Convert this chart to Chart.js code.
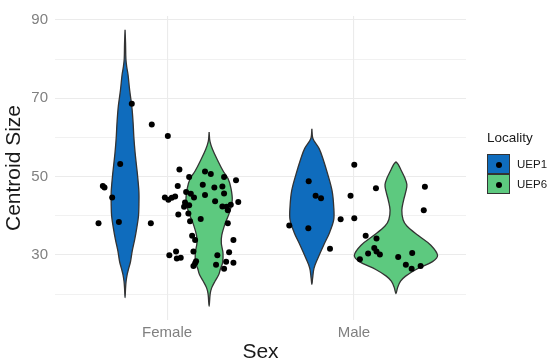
<!DOCTYPE html>
<html>
<head>
<meta charset="utf-8">
<script src="https://cdn.jsdelivr.net/npm/chart.js@4.4.0/dist/chart.umd.min.js"></script>
<style>
  body { margin: 0; background: #fff; }
  #wrap { position: relative; width: 550px; height: 363px; font-family: "Liberation Sans", Arial, sans-serif; }
  #legend { position: absolute; left: 487px; top: 130px; color: #1a1a1a; }
  #legend .ltitle { font-size: 13.5px; line-height: 16px; margin-bottom: 8px; }
  #legend .item { height: 20px; display: flex; align-items: center; font-size: 11.5px; }
  #legend .key { box-sizing: border-box; width: 23px; height: 20px; border: 1px solid #333; position: relative; margin-right: 7px; }
  #legend .dot { position: absolute; left: 8px; top: 6.5px; width: 6px; height: 6px; border-radius: 50%; background: #000; }
</style>
</head>
<body>
<div id="wrap">
  <canvas id="myChart" width="550" height="363"></canvas>
  <div id="legend"></div>
</div>
<script>
var sexes = ["Female", "Male"];
var localities = ["UEP1", "UEP6"];
var localityColors = ["#0f6cbd", "#5dc97f"];
var yTicksShown = [30, 50, 70, 90];

// violin outlines: centroid size level and relative width (1 = widest violin)
var femaleUep1Levels = [87.5, 84, 80, 78, 76, 72, 68, 64, 60, 56, 53, 50, 46, 43, 40, 37, 34, 31, 28.3, 26.5, 25, 23.3, 21.5, 19.1];
var femaleUep1Width = [0, 0.012, 0.02, 0.04, 0.071, 0.11, 0.16, 0.19, 0.21, 0.24, 0.27, 0.3, 0.33, 0.33, 0.32, 0.28, 0.23, 0.17, 0.13, 0.085, 0.05, 0.025, 0.012, 0];
var femaleUep6Levels = [61.4, 59, 57, 54, 51.5, 49.5, 47, 44, 41, 38, 35, 33, 30.5, 28, 26.5, 25, 23.3, 21.6, 20, 16.9];
var femaleUep6Width = [0, 0.02, 0.08, 0.21, 0.33, 0.45, 0.52, 0.55, 0.49, 0.38, 0.3, 0.29, 0.33, 0.32, 0.27, 0.23, 0.14, 0.06, 0.024, 0];
var maleUep1Levels = [62.2, 60, 59, 57.2, 54.7, 50.5, 46.4, 42.3, 39, 35.7, 32.5, 29.1, 26.6, 24, 22.5];
var maleUep1Width = [0, 0.017, 0.06, 0.17, 0.26, 0.38, 0.48, 0.52, 0.52, 0.42, 0.28, 0.14, 0.05, 0.017, 0];
var maleUep6Levels = [53.8, 53, 51.7, 49.7, 48, 46.4, 43.9, 41.4, 39, 37.4, 34.9, 32.5, 29.9, 28.3, 26.3, 24.6, 23.3, 21.7, 20.1];
var maleUep6Width = [0, 0.06, 0.12, 0.21, 0.26, 0.24, 0.18, 0.14, 0.17, 0.26, 0.54, 0.83, 0.99, 0.87, 0.48, 0.23, 0.11, 0.04, 0];

// jittered observations: horizontal offset from the Sex position, centroid size
var femaleJitter = [-0.189, -0.082, 0.004, -0.251, 0.066, 0.118, 0.203, 0.234, 0.305, 0.369,
  -0.344, -0.335, -0.294, -0.367, -0.258, -0.087, 0.057, 0.191, 0.253, 0.296,
  0.102, 0.127, 0.144, 0.203, 0.305, -0.012, 0.007, 0.025, 0.043, 0.096,
  0.118, 0.257, 0.296, 0.319, 0.341, 0.381, 0.325, 0.091, 0.06, 0.114,
  0.123, 0.18, 0.325, 0.134, 0.15, 0.355, 0.048, 0.012, 0.052, 0.073,
  0.141, 0.332, 0.269, 0.155, 0.15, 0.141, 0.262, 0.316, 0.355, 0.305];
var femaleSize = [68.6, 63.3, 60.4, 53.2, 51.8, 49.9, 51.3, 50.7, 49.9, 49.1,
  47.6, 47.2, 44.7, 38.1, 38.4, 38.1, 47.6, 47.9, 47.2, 47.5,
  46.1, 45.6, 44.7, 45.3, 45.7, 44.7, 44.1, 44.6, 44.9, 43.4,
  42.7, 43.7, 42.4, 42.3, 42.8, 43.5, 41.4, 42.3, 40.3, 40.6,
  38.6, 39.2, 38.1, 34.9, 33.8, 33.8, 30.9, 29.9, 29.1, 29.3,
  30.9, 30.7, 29.9, 28.4, 27.9, 27.2, 27.5, 28.3, 28.0, 26.5];
var maleJitter = [0.002, -0.242, -0.205, -0.176, -0.018, 0.118, 0.38, 0.374, -0.071, 0.002,
  -0.346, -0.244, -0.128, 0.063, 0.121, 0.109, 0.121, 0.139, 0.076, 0.032,
  0.237, 0.312, 0.278, 0.309, 0.357];
var maleSize = [53.0, 48.8, 45.1, 44.5, 45.1, 47.0, 47.4, 41.4, 39.1, 39.4,
  37.5, 36.8, 31.6, 34.9, 34.2, 31.8, 30.9, 30.1, 30.4, 28.9,
  29.5, 30.5, 27.5, 26.5, 27.2];

var dodge = 0.225;
var halfMax = 0.225;

function violin(sexIndex, locIndex, levels, widths) {
  var centre = sexIndex + 1 + (locIndex === 0 ? -dodge : dodge);
  var pts = [];
  for (var i = 0; i < levels.length; i++) {
    pts.push({ x: centre + widths[i] * halfMax, y: levels[i] });
  }
  for (var j = levels.length - 2; j >= 0; j--) {
    pts.push({ x: centre - widths[j] * halfMax, y: levels[j] });
  }
  return {
    data: pts,
    showLine: true,
    fill: "shape",
    backgroundColor: localityColors[locIndex],
    borderColor: "#333333",
    borderWidth: 1.3,
    tension: 0.35,
    pointRadius: 0
  };
}

var points = [];
for (var i = 0; i < femaleSize.length; i++) {
  points.push({ x: 1 + femaleJitter[i], y: femaleSize[i] });
}
for (var k = 0; k < maleSize.length; k++) {
  points.push({ x: 2 + maleJitter[k], y: maleSize[k] });
}

var ctx = document.getElementById("myChart").getContext("2d");
var myChart = new Chart(ctx, {
  type: "scatter",
  data: {
    datasets: [
      { data: points, backgroundColor: "#000", borderWidth: 0, pointRadius: 3 },
      violin(0, 0, femaleUep1Levels, femaleUep1Width),
      violin(0, 1, femaleUep6Levels, femaleUep6Width),
      violin(1, 0, maleUep1Levels, maleUep1Width),
      violin(1, 1, maleUep6Levels, maleUep6Width)
    ]
  },
  options: {
    responsive: false,
    animation: false,
    layout: { padding: { top: 6, right: 84 } },
    plugins: { legend: { display: false }, tooltip: { enabled: false } },
    scales: {
      x: {
        type: "linear",
        min: 0.4,
        max: 2.6,
        afterFit: function (scale) { scale.height = 43; },
        afterBuildTicks: function (scale) {
          scale.ticks = sexes.map(function (s, i) { return { value: i + 1 }; });
        },
        ticks: {
          callback: function (v) { return sexes[Math.round(v) - 1]; },
          color: "#808080",
          font: { family: "Liberation Sans", size: 15 },
          padding: 4,
          maxRotation: 0
        },
        grid: { color: "#ebebeb", lineWidth: 1.1, drawTicks: false },
        border: { display: false },
        title: {
          display: true,
          text: "Sex",
          color: "#1a1a1a",
          font: { family: "Liberation Sans", size: 21, lineHeight: 1 },
          padding: { top: 0, bottom: 0 }
        }
      },
      y: {
        min: 13.4,
        max: 91,
        afterFit: function (scale) { scale.width = 55; },
        ticks: {
          stepSize: 10,
          includeBounds: false,
          callback: function (v) { return yTicksShown.indexOf(v) >= 0 ? String(v) : ""; },
          color: "#808080",
          font: { family: "Liberation Sans", size: 15 },
          padding: 7
        },
        grid: {
          color: "#ebebeb",
          lineWidth: function (c) { return yTicksShown.indexOf(c.tick.value) >= 0 ? 1.1 : 0.7; },
          drawTicks: false
        },
        border: { display: false },
        title: {
          display: true,
          text: "Centroid Size",
          color: "#1a1a1a",
          font: { family: "Liberation Sans", size: 21, lineHeight: 1 },
          padding: { top: 3.5, bottom: 0 }
        }
      }
    }
  }
});

var legendHtml = '<div class="ltitle">Locality</div>';
localities.forEach(function (name, i) {
  legendHtml += '<div class="item"><span class="key" style="background:' + localityColors[i] +
    '"><span class="dot"></span></span>' + name + '</div>';
});
document.getElementById("legend").innerHTML = legendHtml;
</script>
</body>
</html>
